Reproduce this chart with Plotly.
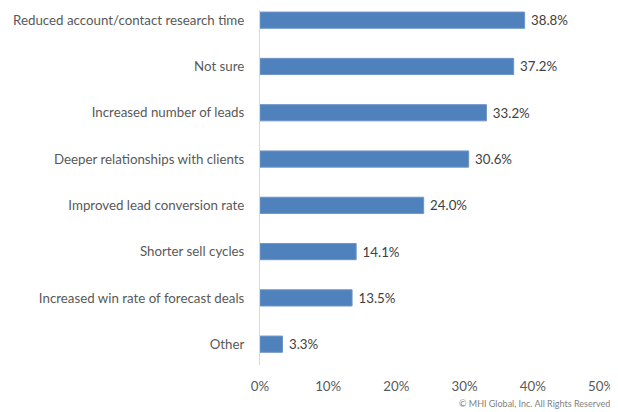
import plotly.graph_objects as go

categories = [
    "Reduced account/contact research time",
    "Not sure",
    "Increased number of leads",
    "Deeper relationships with clients",
    "Improved lead conversion rate",
    "Shorter sell cycles",
    "Increased win rate of forecast deals",
    "Other",
]
values = [38.8, 37.2, 33.2, 30.6, 24.0, 14.1, 13.5, 3.3]
value_labels = ["38.8%", "37.2%", "33.2%", "30.6%", "24.0%", "14.1%", "13.5%", "3.3%"]
x_ticks = [0, 10, 20, 30, 40, 50]
x_tick_labels = ["0%", "10%", "20%", "30%", "40%", "50%"]

FONT = "Lato, Open Sans, sans-serif"

fig = go.Figure(go.Bar(
    y=categories,
    x=values,
    orientation="h",
    width=0.35,
    marker=dict(color="#4f81bd", line=dict(color="#6d95c8", width=1)),
    text=value_labels,
    texttemplate="\u00a0%{text}",
    textposition="outside",
    textfont=dict(family=FONT, size=13.3, color="#404040"),
    cliponaxis=False,
))

fig.update_layout(
    width=610, height=404,
    margin=dict(l=252, r=17, t=2, b=47, autoexpand=False),
    paper_bgcolor="white",
    plot_bgcolor="white",
    showlegend=False,
    font=dict(family=FONT, size=13.3, color="#595959"),
    xaxis=dict(
        range=[0, 50],
        tickvals=x_ticks,
        ticktext=x_tick_labels,
        showgrid=False,
        zeroline=False,
        showline=False,
        automargin=False,
        ticks="outside", ticklen=9, tickcolor="rgba(0,0,0,0)",
        tickfont=dict(family=FONT, size=13.3, color="#595959"),
    ),
    yaxis=dict(
        categoryorder="array",
        categoryarray=categories,
        range=[7.45, -0.22],
        showgrid=False,
        zeroline=False,
        automargin=False,
        showline=True, linecolor="#d9d9d9", linewidth=1,
        ticks="outside", ticklen=12, tickcolor="rgba(0,0,0,0)",
        tickfont=dict(family=FONT, size=13.3, color="#595959"),
    ),
    annotations=[dict(
        text="© MHI Global, Inc. All Rights Reserved",
        xref="paper", yref="paper", x=1.032, y=0, yshift=-38,
        xanchor="right", yanchor="middle", showarrow=False,
        font=dict(family=FONT, size=9, color="#7f7f7f"),
    )],
)

fig.write_html("out.html")
